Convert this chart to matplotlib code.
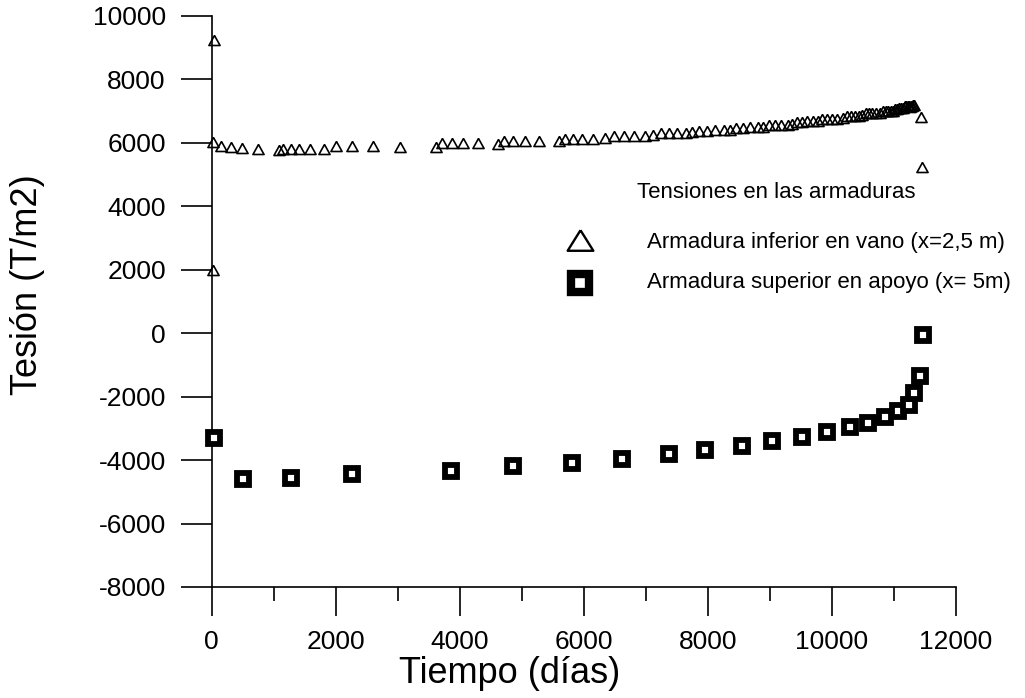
import matplotlib
matplotlib.use("Agg")
import matplotlib.pyplot as plt
from matplotlib.lines import Line2D
from matplotlib.ticker import MultipleLocator

plt.rcParams['font.family'] = ['Liberation Sans', 'DejaVu Sans']
plt.rcParams['axes.unicode_minus'] = False

# Armadura inferior en vano (x=2,5 m)  - triangles
tri_x = [30, 26, 20, 145, 306, 494, 752,
         1085, 1155, 1274, 1408, 1585, 1811,
         2005, 2268, 2597, 3037,
         3613, 3719, 3871, 4058, 4290,
         4613, 4715, 4865, 5053, 5284,
         5602, 5698, 5823, 5977, 6155,
         6343, 6489, 6650, 6811, 6989,
         7118, 7247, 7376, 7505, 7650,
         7747, 7860, 7989, 8118, 8263,
         8360, 8457, 8569, 8682, 8811,
         8892, 8989, 9086, 9182, 9295,
         9360, 9440, 9521, 9602, 9698,
         9779, 9844, 9924, 10005, 10085,
         10182, 10247, 10311, 10376, 10440,
         10489, 10553, 10602, 10650, 10715,
         10779, 10827, 10876, 10908, 10956,
         10989, 11021, 11053, 11085, 11118,
         11150, 11182, 11198, 11231, 11247,
         11263, 11279, 11295, 11311, 11327,
         11430, 11450]
tri_y = [9250, 6030, 1980, 5890, 5850, 5820, 5790,
         5765, 5790, 5790, 5800, 5790, 5790,
         5890, 5890, 5890, 5870,
         5870, 5975, 5975, 5975, 5975,
         5960, 6040, 6040, 6040, 6040,
         6060, 6110, 6110, 6110, 6120,
         6140, 6200, 6200, 6210, 6210,
         6230, 6290, 6290, 6300, 6300,
         6320, 6380, 6380, 6390, 6390,
         6410, 6470, 6470, 6480, 6480,
         6500, 6560, 6560, 6570, 6570,
         6600, 6660, 6660, 6670, 6670,
         6680, 6740, 6740, 6750, 6750,
         6770, 6830, 6830, 6840, 6840,
         6860, 6920, 6920, 6930, 6930,
         6940, 7000, 7000, 7010, 7010,
         7010, 7070, 7070, 7080, 7080,
         7080, 7140, 7140, 7150, 7150,
         7110, 7170, 7170, 7180, 7180,
         6800, 5230]

# Armadura superior en apoyo (x= 5m) - squares
sq_x = [37, 500, 1274, 2263, 3860, 4865, 5811, 6613, 7365, 7961, 8542,
        9037, 9510, 9913, 10284, 10585, 10860, 11065, 11235, 11327, 11424, 11468]
sq_y = [-3320, -4610, -4580, -4440, -4330, -4200, -4090, -3960, -3820, -3690,
        -3550, -3400, -3260, -3120, -2970, -2820, -2650, -2460, -2250, -1880,
        -1360, -50]

x_ticks = [0, 2000, 4000, 6000, 8000, 10000, 12000]
y_ticks = [-8000, -6000, -4000, -2000, 0, 2000, 4000, 6000, 8000, 10000]

title_txt = "Tensiones en las armaduras"
lab_inf = "Armadura inferior en vano (x=2,5 m)"
lab_sup = "Armadura superior en apoyo (x= 5m)"

W, H = 1025, 698
fig = plt.figure(figsize=(W / 100, H / 100), dpi=100)
ax = fig.add_axes([211.7 / W, 1 - 587 / H, (956 - 211.7) / W, (587 - 15.7) / H])

tri_marker = [(0, 0.9), (-1, -0.9), (1, -0.9), (0, 0.9)]

ax.plot(tri_x, tri_y, linestyle='none', marker=tri_marker, ms=8.0,
        mfc='none', mec='black', mew=1.2, clip_on=False, zorder=3)
ax.plot(sq_x, sq_y, linestyle='none', marker='s', ms=8.6,
        mfc='white', mec='black', mew=4.2, clip_on=False, zorder=3)

ax.set_xlim(0, 12000)
ax.set_ylim(-8000, 10000)
ax.set_xticks(x_ticks)
ax.set_yticks(y_ticks)
ax.xaxis.set_minor_locator(MultipleLocator(1000))
ax.spines['top'].set_visible(False)
ax.spines['right'].set_visible(False)
for s in ('left', 'bottom'):
    ax.spines[s].set_linewidth(1.2)
ax.tick_params(axis='both', which='major', direction='out', width=1.2,
               labelsize=19)
ax.tick_params(axis='y', which='major', length=22, pad=11)
ax.tick_params(axis='x', which='major', length=21, pad=10)
ax.tick_params(axis='x', which='minor', direction='out', length=10, width=1.2)

fig.text(510 / W, 1 - 683 / H, "Tiempo (días)", fontsize=26,
         ha='center', va='baseline')
fig.text(28 / W, 1 - 285 / H, "Tesión (T/m2)", fontsize=26,
         ha='center', va='center', rotation=90)

# legend block
fig.text(637 / W, 1 - 198 / H, title_txt, fontsize=16, ha='left', va='baseline')
fig.text(647 / W, 1 - 248 / H, lab_inf, fontsize=16, ha='left', va='baseline')
fig.text(647 / W, 1 - 288 / H, lab_sup, fontsize=16, ha='left', va='baseline')
fig.add_artist(Line2D([580 / W], [1 - 240 / H], transform=fig.transFigure,
                      linestyle='none', marker=[(0, 0.8), (-1, -0.8), (1, -0.8), (0, 0.8)],
                      ms=18.5, mfc='none', mec='black', mew=1.7))
fig.add_artist(Line2D([580 / W], [1 - 283 / H], transform=fig.transFigure,
                      linestyle='none', marker='s', ms=13.5, mfc='white',
                      mec='black', mew=6.0))

fig.savefig("out.png", dpi=100)
